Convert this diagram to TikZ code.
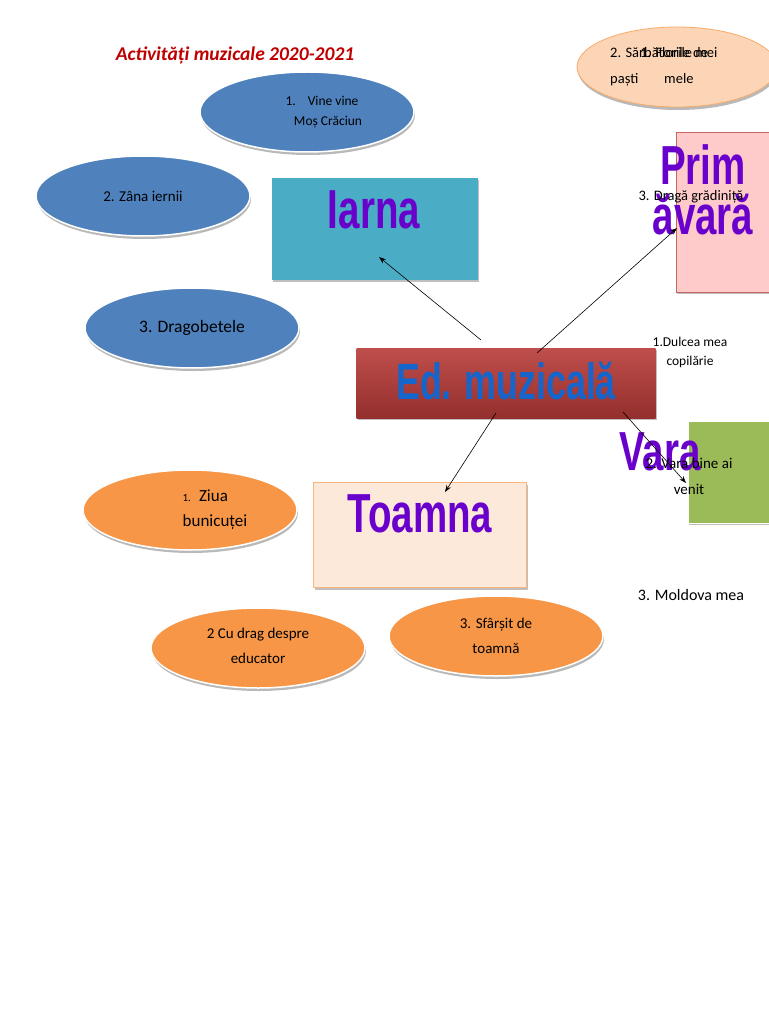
\documentclass[tikz,border=0pt]{standalone}
\usepackage{fontspec}
\setmainfont{Carlito}
\newfontfamily\impact[FakeStretch=0.7]{Liberation Sans Bold}
\usetikzlibrary{shapes.geometric,shadows,arrows.meta}
\definecolor{bluefill}{HTML}{4F81BD}
\definecolor{orangefill}{HTML}{F79646}
\definecolor{peach}{HTML}{FBD5B5}
\definecolor{teal}{HTML}{4BACC6}
\definecolor{redbox}{HTML}{B83B38}
\definecolor{pinkbox}{HTML}{FFCACA}
\definecolor{greenbox}{HTML}{9BBB59}
\definecolor{toambox}{HTML}{FDE9D9}
\definecolor{purplet}{HTML}{6A00CC}
\definecolor{bluet}{HTML}{1466CC}
\definecolor{titlered}{HTML}{C00000}
\begin{document}
\begin{tikzpicture}[x=1pt,y=-1pt,
  oval/.style={ellipse,minimum width=214pt,minimum height=80pt,draw=white,line width=1.5pt,
    drop shadow={shadow xshift=1pt,shadow yshift=-3pt,fill=gray!55,opacity=1},align=center,inner sep=0pt},
  blueoval/.style={oval,fill=bluefill},
  orangeoval/.style={oval,fill=orangefill},
  bigbox/.style={draw=none,inner sep=0pt,drop shadow={shadow xshift=1pt,shadow yshift=-2pt,fill=gray!50,opacity=1}},
  bigtext/.style={font=\impact\fontsize{55}{55}\selectfont,text=purplet,inner sep=0pt},
  txt/.style={align=center,inner sep=0pt},
  conn/.style={-{Stealth[length=7pt,width=5pt]},line width=0.6pt}
]
\useasboundingbox (0,0) rectangle (768,1024);
\fill[white] (0,0) rectangle (768,1024);

% title
\node[txt,font=\bfseries\itshape\fontsize{19.5}{22}\selectfont,text=titlered] (title) at (235,55) {Activități muzicale 2020-2021};

% top-right ellipse
\node[oval,fill=peach,draw=orangefill!80,line width=0.8pt,minimum width=200pt,minimum height=80pt] (pastiov) at (677,67) {};
\node[txt,anchor=west,font=\fontsize{14.5}{26}\selectfont,align=left] (pasti) at (610,67) {2. Sărbătorile de\\paști};
\node[txt,anchor=west,font=\fontsize{14.5}{26}\selectfont,align=center] (florile) at (640,66) {1. Florile mei\\mele};

% blue ellipses
\node[blueoval] (e1) at (307,112) {};
\node[txt,font=\fontsize{13.5}{20}\selectfont] (e1t) at (322,112) {1.\hspace{12pt}Vine vine\\\hspace{12pt}Moș Crăciun};
\node[blueoval] (e2) at (143,196) {};
\node[txt,font=\fontsize{15}{18}\selectfont] (e2t) at (143,196) {2. Zâna iernii};
\node[blueoval] (e3) at (192,328) {};
\node[txt,font=\fontsize{17.5}{20}\selectfont] (e3t) at (192,328) {3. Dragobetele};

% Iarna box
\node[bigbox,fill=teal,minimum width=206pt,minimum height=102pt] (iarna) at (375,229) {};
\node[bigtext] (iarnat) at (374,210) {Iarna};

% Ed. muzicala
\node[bigbox,top color=redbox!90!white,bottom color=redbox!80!black,minimum width=299pt,minimum height=70pt] (ed) at (506,383) {};
\node[bigtext,text=bluet,font=\impact\fontsize{51}{51}\selectfont] (edt) at (506,381) {Ed. muzicală};

% Primavara box
\node[bigbox,fill=pinkbox,draw=red!60!black!60,line width=0.6pt,minimum width=100pt,minimum height=160pt] (prim) at (726,212) {};
\node[bigtext] (primt) at (703,165) {Prim};
\node[bigtext] (avarat) at (703,215) {ăvară};
\node[txt,font=\fontsize{14.5}{17}\selectfont] (draga) at (691,197) {3. Dragă grădiniță};

\node[txt,font=\fontsize{13.5}{19}\selectfont] (dulcea) at (690,352) {1.Dulcea mea\\copilărie};

% Vara box
\node[bigbox,fill=greenbox,draw=white,line width=1pt,minimum width=84pt,minimum height=102pt] (vara) at (730,472) {};
\node[bigtext] (varat) at (660,452) {Vara};
\node[txt,font=\fontsize{15}{26}\selectfont] (varab) at (689,476) {2. Vara bine ai\\venit};

% Toamna box
\node[bigbox,fill=toambox,draw=orangefill!70,line width=0.8pt,minimum width=213pt,minimum height=105pt] (toamna) at (420,535) {};
\node[bigtext] (toamnat) at (420,514) {Toamna};

\node[txt,font=\fontsize{16}{18}\selectfont] (moldova) at (691,595) {3. Moldova mea};

% orange ellipses
\node[orangeoval] (o1) at (190,510) {};
\node[txt,font=\fontsize{17}{25}\selectfont,align=left] (o1t) at (215,510) {{\fontsize{11}{11}\selectfont 1.}\hspace{8pt}Ziua\\bunicuței};
\node[orangeoval] (o2) at (258,648) {};
\node[txt,font=\fontsize{15}{25}\selectfont] (o2t) at (258,646) {2 Cu drag despre\\educator};
\node[orangeoval] (o3) at (496,636) {};
\node[txt,font=\fontsize{15}{25}\selectfont] (o3t) at (496,636) {3. Sfârșit de\\toamnă};

% connectors
\coordinate (s1) at (481,340);
\coordinate (t1) at (379,257);
\coordinate (s2) at (537,353);
\coordinate (t2) at (677,228);
\coordinate (s3) at (496,413);
\coordinate (t3) at (445,492);
\coordinate (s4) at (623,412);
\coordinate (t4) at (686,483);
\draw[conn] (s1) -- (t1);
\draw[conn] (s2) -- (t2);
\draw[conn] (s3) -- (t3);
\draw[conn] (s4) -- (t4);
\end{tikzpicture}
\end{document}
